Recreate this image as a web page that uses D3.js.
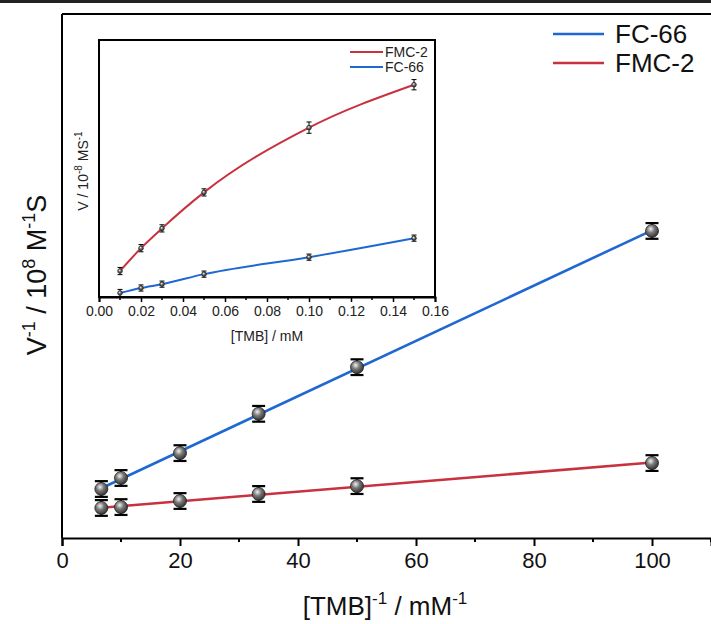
<!DOCTYPE html>
<html>
<head>
<meta charset="utf-8">
<script src="https://cdn.jsdelivr.net/npm/d3@7"></script>
<style>
  body { margin: 0; background: #fff; }
  svg { display: block; font-family: "Liberation Sans", Arial, sans-serif; }
</style>
</head>
<body>
<svg id="chart" width="711" height="624"></svg>
<script>
// main plot: Lineweaver-Burk (1/[TMB] vs 1/V)
const invTMB = [6.67, 10, 20, 33.33, 50, 100];
const invV_FC66 = [0.935, 1.145, 1.62, 2.37, 3.26, 5.86];
const invV_FMC2 = [0.573, 0.59, 0.706, 0.84, 0.99, 1.43];
const errMain = [0.15, 0.15, 0.15, 0.15, 0.15, 0.15];
const xTicksMain = [0, 20, 40, 60, 80, 100];

// inset: Michaelis-Menten ([TMB] vs V)
const tmb = [0.01, 0.02, 0.03, 0.05, 0.10, 0.15];
const v_FMC2 = [1.01, 1.90, 2.67, 4.07, 6.59, 8.26];
const v_FC66 = [0.155, 0.35, 0.50, 0.89, 1.55, 2.29];
const errInset_FMC2 = [0.14, 0.14, 0.14, 0.14, 0.22, 0.2];
const errInset_FC66 = [0.14, 0.12, 0.12, 0.12, 0.12, 0.12];
const xTicksInset = [0, 0.02, 0.04, 0.06, 0.08, 0.10, 0.12, 0.14, 0.16];

const BLUE = "#1f68d2";
const RED = "#c8323f";

const svg = d3.select("#chart");

// thin dark rule on the very top
svg.append("rect").attr("x", 0).attr("y", 0).attr("width", 711).attr("height", 3).attr("fill", "#222");

// marker gradient (grey ball look)
const defs = svg.append("defs");
const grad = defs.append("radialGradient").attr("id", "ball").attr("cx", "40%").attr("cy", "35%").attr("r", "65%");
grad.append("stop").attr("offset", "0%").attr("stop-color", "#f2f2f2");
grad.append("stop").attr("offset", "45%").attr("stop-color", "#7a7a7a");
grad.append("stop").attr("offset", "100%").attr("stop-color", "#333");

//////////// MAIN PLOT ////////////
const x = d3.scaleLinear().domain([0, 110]).range([62, 711]);
const y = d3.scaleLinear().domain([0, 10]).range([538, 14]);

// frame: left + top
svg.append("line").attr("x1", 62).attr("x2", 62).attr("y1", 14).attr("y2", 538)
    .attr("stroke", "#000").attr("stroke-width", 2);
svg.append("line").attr("x1", 62).attr("x2", 711).attr("y1", 14).attr("y2", 14)
    .attr("stroke", "#000").attr("stroke-width", 2);

const xAxis = svg.append("g").attr("transform", "translate(0,538)")
    .call(d3.axisBottom(x).tickValues(xTicksMain).tickSize(8).tickPadding(6).tickFormat(d3.format("d")));
xAxis.select(".domain").attr("stroke-width", 2);
xAxis.selectAll(".tick line").attr("stroke-width", 2);
xAxis.selectAll("text").attr("font-size", 22).attr("fill", "#111");
// minor ticks
xAxis.selectAll("line.minor").data([10, 30, 50, 70, 90, 110]).enter().append("line")
    .attr("class", "minor").attr("x1", (d) => x(d)).attr("x2", (d) => x(d))
    .attr("y1", 0).attr("y2", 4).attr("stroke", "#000").attr("stroke-width", 2);

// fit lines (least squares)
function fit(xs, ys) {
    const mx = d3.mean(xs), my = d3.mean(ys);
    let num = 0, den = 0;
    xs.forEach((v, i) => { num += (v - mx) * (ys[i] - my); den += (v - mx) * (v - mx); });
    const k = num / den;
    return { k: k, b: my - k * mx };
}
[[invV_FC66, BLUE], [invV_FMC2, RED]].forEach(([ys, col]) => {
    const f = fit(invTMB, ys);
    const x0 = d3.min(invTMB), x1 = d3.max(invTMB);
    svg.append("line")
        .attr("x1", x(x0)).attr("y1", y(f.k * x0 + f.b))
        .attr("x2", x(x1)).attr("y2", y(f.k * x1 + f.b))
        .attr("stroke", col).attr("stroke-width", 2.6);
});

function drawPoints(g, xs, ys, errs, sx, sy, r, cap, sw) {
    const pts = xs.map((v, i) => ({ x: v, y: ys[i], e: errs[i] }));
    const grp = g.append("g");
    pts.forEach((d) => {
        const cx = sx(d.x);
        grp.append("line").attr("x1", cx).attr("x2", cx).attr("y1", sy(d.y - d.e)).attr("y2", sy(d.y + d.e))
            .attr("stroke", "#000").attr("stroke-width", sw);
        [d.y - d.e, d.y + d.e].forEach((v) => {
            grp.append("line").attr("x1", cx - cap / 2).attr("x2", cx + cap / 2).attr("y1", sy(v)).attr("y2", sy(v))
                .attr("stroke", "#000").attr("stroke-width", sw);
        });
        grp.append("circle").attr("cx", cx).attr("cy", sy(d.y)).attr("r", r)
            .attr("fill", "url(#ball)").attr("stroke", "#222").attr("stroke-width", 0.8);
    });
}
drawPoints(svg, invTMB, invV_FC66, errMain, x, y, 6.5, 13, 2.2);
drawPoints(svg, invTMB, invV_FMC2, errMain, x, y, 6.5, 13, 2.2);

// axis titles
const xt = svg.append("text").attr("x", 385).attr("y", 615).attr("text-anchor", "middle")
    .attr("font-size", 26).attr("fill", "#111");
xt.append("tspan").text("[TMB]");
xt.append("tspan").attr("dy", -11).attr("font-size", 17).text("-1");
xt.append("tspan").attr("dy", 11).text(" / mM");
xt.append("tspan").attr("dy", -11).attr("font-size", 17).text("-1");

const yt = svg.append("text").attr("transform", "translate(46,275) rotate(-90)").attr("text-anchor", "middle")
    .attr("font-size", 27).attr("fill", "#111");
yt.append("tspan").text("V");
yt.append("tspan").attr("dy", -11).attr("font-size", 18).text("-1");
yt.append("tspan").attr("dy", 11).text(" / 10");
yt.append("tspan").attr("dy", -11).attr("font-size", 18).text("8");
yt.append("tspan").attr("dy", 11).text(" M");
yt.append("tspan").attr("dy", -11).attr("font-size", 18).text("-1");
yt.append("tspan").attr("dy", 11).text("S");

// legend
const legend = svg.append("g");
[["FC-66", BLUE, 34], ["FMC-2", RED, 63]].forEach(([name, col, ly]) => {
    legend.append("line").attr("x1", 553).attr("x2", 604).attr("y1", ly).attr("y2", ly)
        .attr("stroke", col).attr("stroke-width", 2.6);
    legend.append("text").attr("x", 615).attr("y", ly + 9).attr("font-size", 26).attr("fill", "#111").text(name);
});

//////////// INSET ////////////
const ix = d3.scaleLinear().domain([0, 0.16]).range([99, 435]);
const iy = d3.scaleLinear().domain([0, 10]).range([297, 40]);

svg.append("rect").attr("x", 99).attr("y", 40).attr("width", 336).attr("height", 257)
    .attr("fill", "#fff").attr("stroke", "#000").attr("stroke-width", 2);

const ixAxis = svg.append("g").attr("transform", "translate(0,297)")
    .call(d3.axisBottom(ix).tickValues(xTicksInset).tickSize(5).tickPadding(4).tickFormat(d3.format(".2f")));
ixAxis.select(".domain").attr("stroke-width", 2);
ixAxis.selectAll(".tick line").attr("stroke-width", 1.5);
ixAxis.selectAll("text").attr("font-size", 14).attr("fill", "#222");
ixAxis.selectAll("line.minor").data([0.01, 0.03, 0.05, 0.07, 0.09, 0.11, 0.13, 0.15]).enter().append("line")
    .attr("class", "minor").attr("x1", (d) => ix(d)).attr("x2", (d) => ix(d))
    .attr("y1", 0).attr("y2", 3).attr("stroke", "#000").attr("stroke-width", 1.5);

const curve = d3.line().x((d) => ix(d[0])).y((d) => iy(d[1])).curve(d3.curveMonotoneX);
svg.append("path").attr("d", curve(d3.zip(tmb, v_FMC2))).attr("fill", "none").attr("stroke", RED).attr("stroke-width", 2);
svg.append("path").attr("d", curve(d3.zip(tmb, v_FC66))).attr("fill", "none").attr("stroke", BLUE).attr("stroke-width", 2);

drawPoints(svg, tmb, v_FMC2, errInset_FMC2, ix, iy, 2.3, 5, 1);
drawPoints(svg, tmb, v_FC66, errInset_FC66, ix, iy, 2.3, 5, 1);

const ixt = svg.append("text").attr("x", 267).attr("y", 341).attr("text-anchor", "middle")
    .attr("font-size", 14).attr("fill", "#222").text("[TMB] / mM");

const iyt = svg.append("text").attr("transform", "translate(88,171) rotate(-90)").attr("text-anchor", "middle")
    .attr("font-size", 14).attr("fill", "#222");
iyt.append("tspan").text("V / 10");
iyt.append("tspan").attr("dy", -6).attr("font-size", 10).text("-8");
iyt.append("tspan").attr("dy", 6).text(" MS");
iyt.append("tspan").attr("dy", -6).attr("font-size", 10).text("-1");

const ilegend = svg.append("g");
[["FMC-2", RED, 52], ["FC-66", BLUE, 67]].forEach(([name, col, ly]) => {
    ilegend.append("line").attr("x1", 350).attr("x2", 383).attr("y1", ly).attr("y2", ly)
        .attr("stroke", col).attr("stroke-width", 2);
    ilegend.append("text").attr("x", 385).attr("y", ly + 5).attr("font-size", 14).attr("fill", "#222").text(name);
});
</script>
</body>
</html>
